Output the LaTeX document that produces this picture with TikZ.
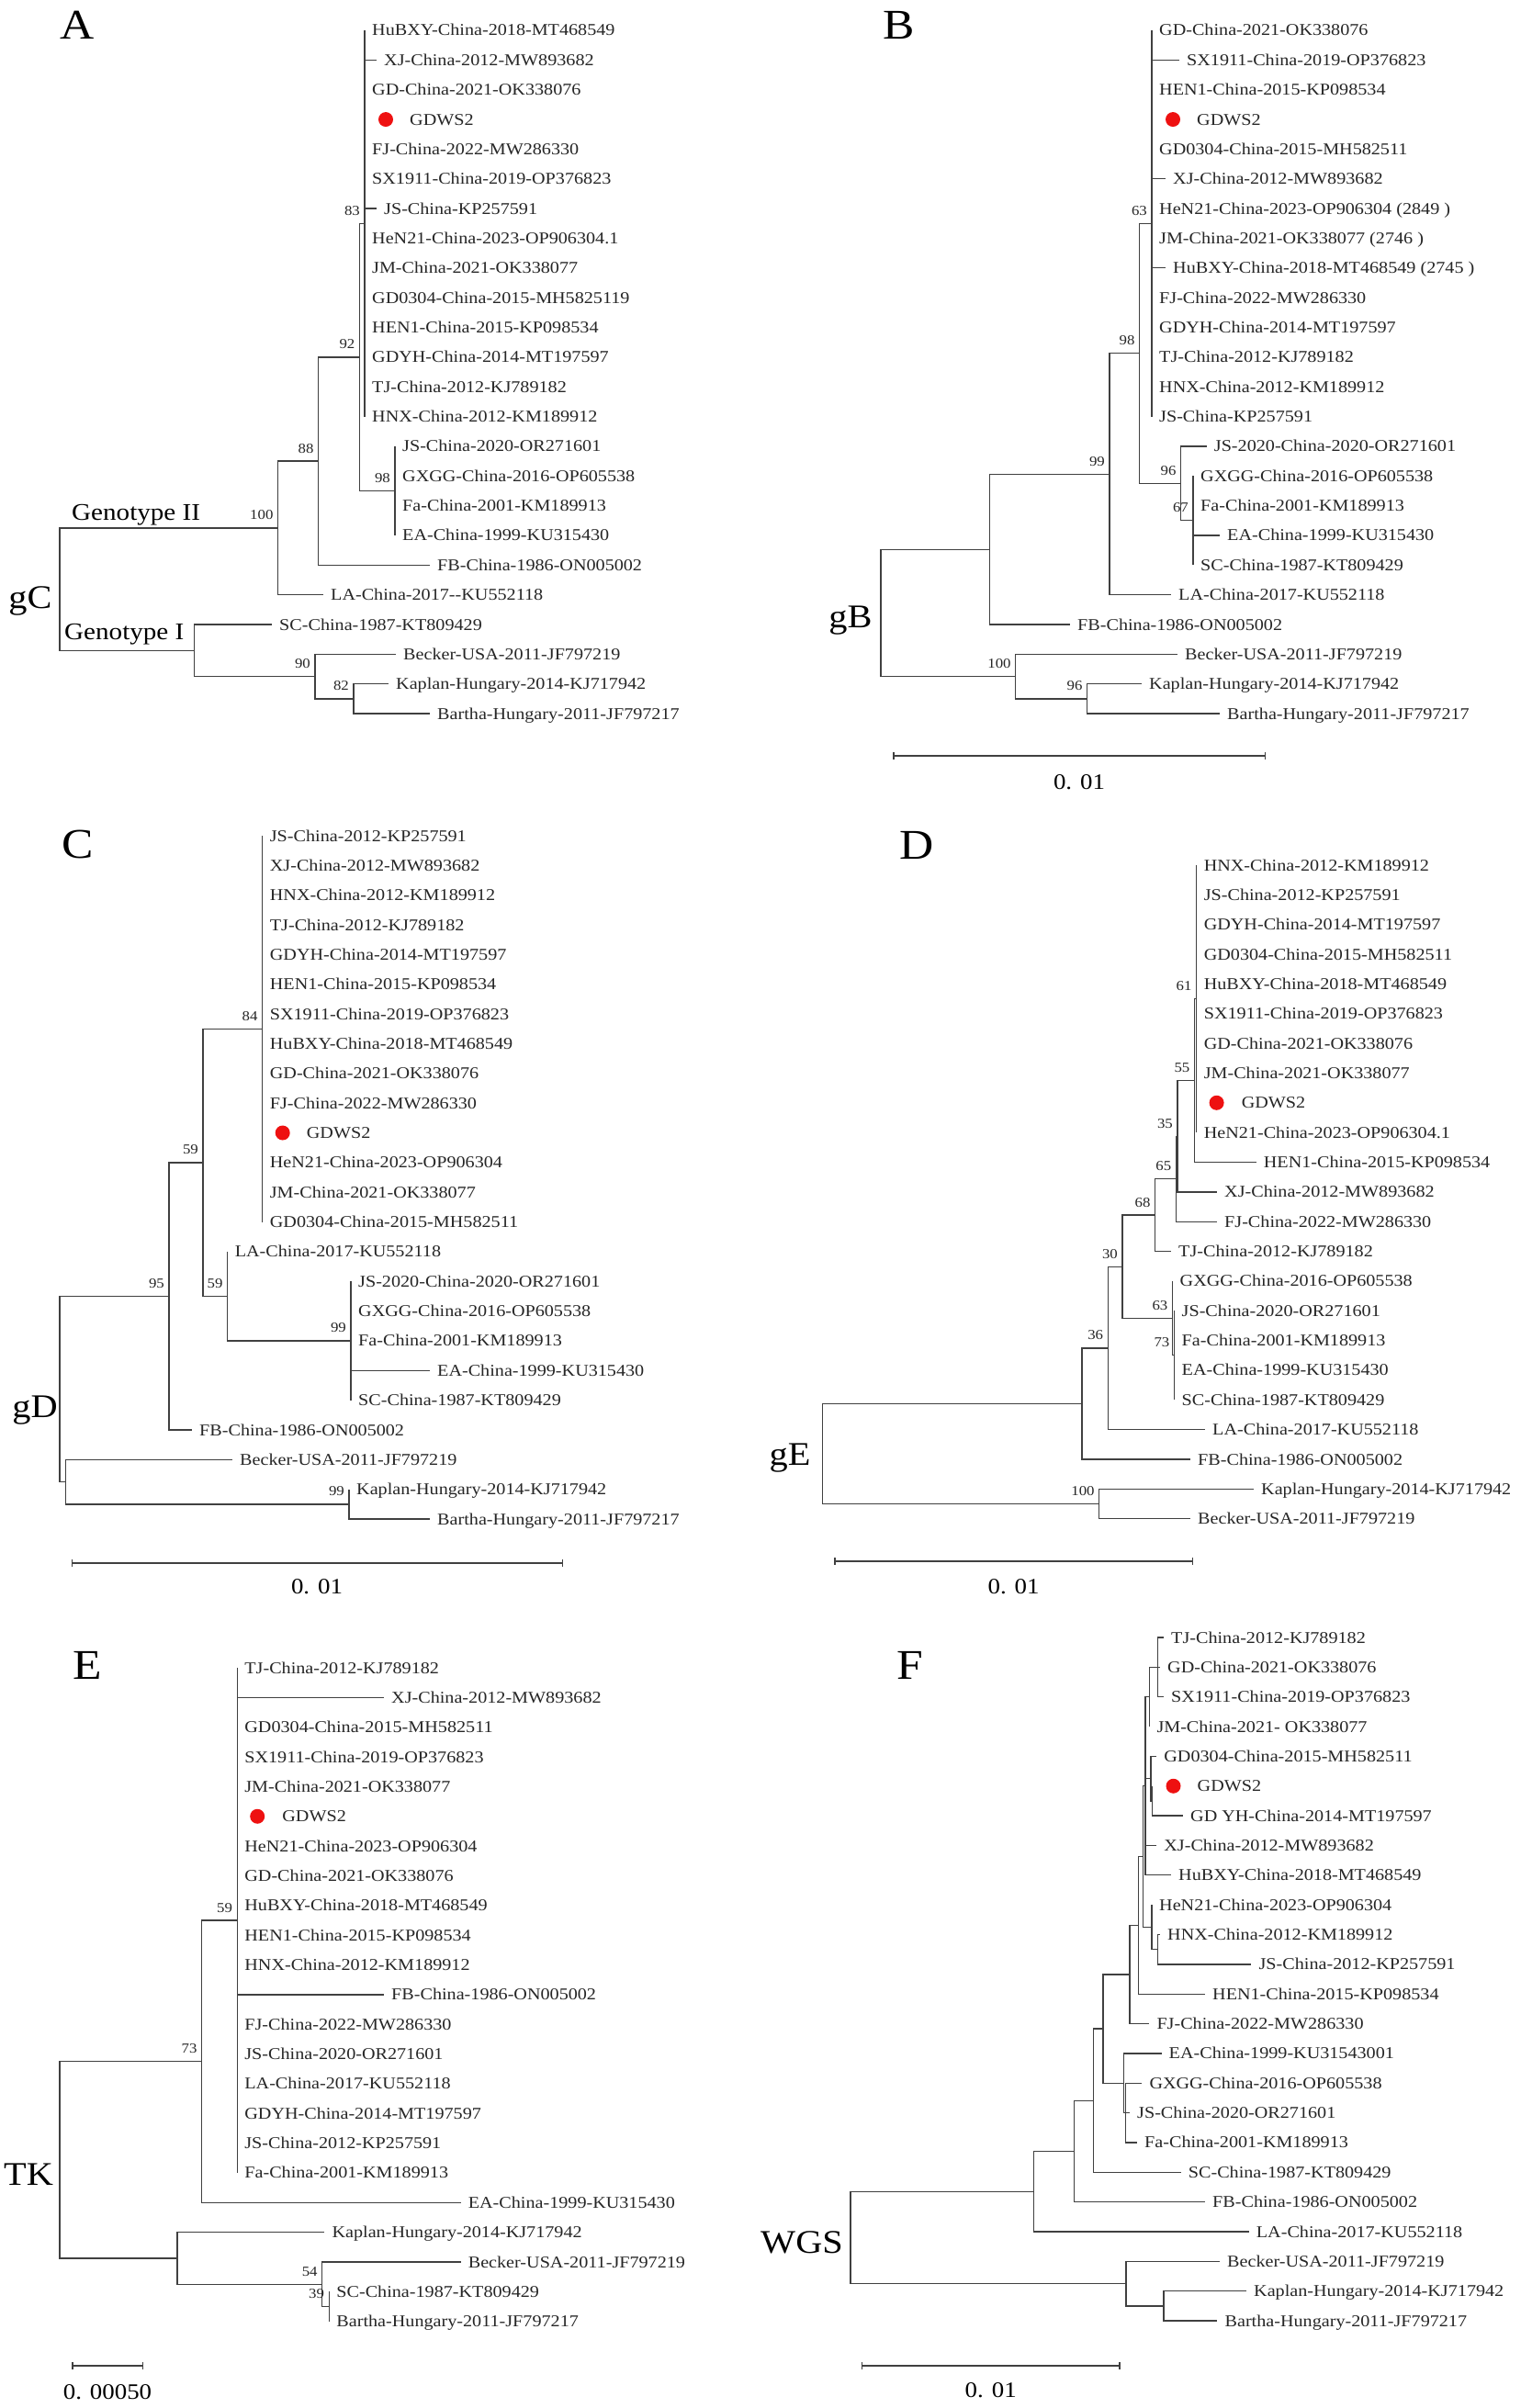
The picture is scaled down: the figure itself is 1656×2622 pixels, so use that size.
\documentclass[tikz,border=0pt]{standalone}
\usepackage{fontspec}
\setmainfont[FakeStretch=1.12]{Liberation Serif}
\usetikzlibrary{arrows.meta}
\definecolor{treegray}{HTML}{404040}
\definecolor{dotred}{HTML}{EE1111}
\tikzset{
  branch/.style={draw=treegray, line width=1.3pt},
  leaf/.style={anchor=base west, inner sep=0pt, xshift=8pt, yshift=-6pt, font=\fontsize{18}{18}\selectfont, text=black!85},
  boot/.style={anchor=base east, inner sep=0pt, xshift=-5pt, yshift=9pt, font=\fontsize{15}{15}\selectfont, text=black!85},
  strain/.style={circle, fill=dotred, inner sep=0pt, minimum size=16pt},
  panel/.style={anchor=base, inner sep=0pt, font=\fontsize{46}{46}\selectfont},
  gene/.style={anchor=base, inner sep=0pt, font=\fontsize{36}{36}\selectfont},
  geno/.style={anchor=base west, inner sep=0pt, font=\fontsize{26}{26}\selectfont},
  scalebar/.style={draw=treegray, line width=1.3pt, arrows={Bar[width=8pt]-Bar[width=8pt]}},
  scaletext/.style={anchor=base, inner sep=0pt, font=\fontsize{24}{24}\selectfont},
}
\begin{document}
\begin{tikzpicture}[x=1pt, y=-1pt]
\useasboundingbox (0,0) rectangle (1656,2622);
\fill[white] (0,0) rectangle (1656,2622);

% panel letters and gene names
\node[panel] (lA) at (84,43) {A};
\node[panel] (lB) at (979,43) {B};
\node[panel] (lC) at (85,934) {C};
\node[panel] (lD) at (998,935) {D};
\node[panel] (lE) at (95,1828) {E};
\node[panel] (lF) at (991,1828) {F};
\node[gene] (gC) at (33,662) {gC};
\node[gene] (gB) at (926,683) {gB};
\node[gene] (gD) at (38,1543) {gD};
\node[gene] (gE) at (860,1595) {gE};
\node[gene] (gTK) at (31,2379) {TK};
\node[gene] (gWGS) at (873,2453) {WGS};
\node[geno] (g2) at (78,566) {Genotype II};
\node[geno] (g1) at (70,696) {Genotype I};

% A: gC
\begin{scope}[shift={(0,33)}, y=-32.35pt]
\coordinate (aR) at (65,18.8125);
\coordinate (aN100) at (302.6,16.75);
\coordinate (aN88) at (346.6,14.5);
\coordinate (aN92) at (391.5,11);
\coordinate (aN83) at (397,6.5);
\coordinate (aN98) at (430,15.5);
\coordinate (aGI) at (211.6,20.875);
\coordinate (aN90) at (343,21.75);
\coordinate (aN82) at (385,22.5);
\foreach \p/\c in {aR/aN100, aR/aGI, aN100/aN88, aN88/aN92, aN92/aN83, aN92/aN98, aGI/aN90, aN90/aN82}
  \draw[branch] (\p) |- (\c);
\foreach \p/\i/\x/\s in {aN83/0/397/HuBXY-China-2018-MT468549, aN83/1/410/XJ-China-2012-MW893682,
  aN83/2/397/GD-China-2021-OK338076, aN83/4/397/FJ-China-2022-MW286330,
  aN83/5/397/SX1911-China-2019-OP376823, aN83/6/410/JS-China-KP257591,
  aN83/7/397/HeN21-China-2023-OP906304.1, aN83/8/397/JM-China-2021-OK338077,
  aN83/9/397/GD0304-China-2015-MH5825119, aN83/10/397/HEN1-China-2015-KP098534,
  aN83/11/397/GDYH-China-2014-MT197597, aN83/12/397/TJ-China-2012-KJ789182,
  aN83/13/397/HNX-China-2012-KM189912, aN98/14/430/JS-China-2020-OR271601,
  aN98/15/430/GXGG-China-2016-OP605538, aN98/16/430/Fa-China-2001-KM189913,
  aN98/17/430/EA-China-1999-KU315430, aN88/18/468/FB-China-1986-ON005002,
  aN100/19/352/LA-China-2017-{}-KU552118, aGI/20/296/SC-China-1987-KT809429,
  aN90/21/431/Becker-USA-2011-JF797219, aN82/22/423/Kaplan-Hungary-2014-KJ717942,
  aN82/23/468/Bartha-Hungary-2011-JF797217}{
  \coordinate (a\i) at (\x,\i);
  \draw[branch] (\p) |- (a\i);
  \node[leaf] (a\i-l) at (a\i) {\s};
}
\coordinate (a3) at (397,3);
\draw[branch] (aN83) |- (a3);
\node[strain] (a3-d) at ([xshift=23pt]a3) {};
\node[leaf, xshift=41pt] (a3-l) at (a3) {GDWS2};
\foreach \n/\v in {aN83/83, aN92/92, aN98/98, aN88/88, aN100/100, aN90/90, aN82/82}
  \node[boot] (\n-b) at (\n) {\v};
\end{scope}

% B: gB
\begin{scope}[shift={(0,33)}, y=-32.35pt]
\coordinate (bR) at (959,19.61);
\coordinate (bNF) at (1077.7,17.47);
\coordinate (bN99) at (1208,14.9375);
\coordinate (bN98) at (1240.7,10.875);
\coordinate (bN63) at (1254,6.5);
\coordinate (bN96) at (1285.7,15.25);
\coordinate (bN67) at (1299,16.5);
\coordinate (bN100) at (1105.8,21.75);
\coordinate (bN96k) at (1183.6,22.5);
\foreach \p/\c in {bR/bNF, bR/bN100, bNF/bN99, bN99/bN98, bN98/bN63, bN98/bN96, bN96/bN67, bN100/bN96k}
  \draw[branch] (\p) |- (\c);
\foreach \p/\i/\x/\s in {bN63/0/1254/GD-China-2021-OK338076, bN63/1/1284/SX1911-China-2019-OP376823,
  bN63/2/1254/HEN1-China-2015-KP098534, bN63/4/1254/GD0304-China-2015-MH582511,
  bN63/5/1269/XJ-China-2012-MW893682, bN63/6/1254/HeN21-China-2023-OP906304 (2849 ),
  bN63/7/1254/JM-China-2021-OK338077 (2746 ), bN63/8/1269/HuBXY-China-2018-MT468549 (2745 ),
  bN63/9/1254/FJ-China-2022-MW286330, bN63/10/1254/GDYH-China-2014-MT197597,
  bN63/11/1254/TJ-China-2012-KJ789182, bN63/12/1254/HNX-China-2012-KM189912,
  bN63/13/1254/JS-China-KP257591, bN96/14/1313.7/JS-2020-China-2020-OR271601,
  bN67/15/1299/GXGG-China-2016-OP605538, bN67/16/1299/Fa-China-2001-KM189913,
  bN67/17/1328/EA-China-1999-KU315430, bN67/18/1299/SC-China-1987-KT809429,
  bN99/19/1275/LA-China-2017-KU552118, bNF/20/1165/FB-China-1986-ON005002,
  bN100/21/1282/Becker-USA-2011-JF797219, bN96k/22/1243/Kaplan-Hungary-2014-KJ717942,
  bN96k/23/1328/Bartha-Hungary-2011-JF797217}{
  \coordinate (b\i) at (\x,\i);
  \draw[branch] (\p) |- (b\i);
  \node[leaf] (b\i-l) at (b\i) {\s};
}
\coordinate (b3) at (1254,3);
\draw[branch] (bN63) |- (b3);
\node[strain] (b3-d) at ([xshift=23pt]b3) {};
\node[leaf, xshift=41pt] (b3-l) at (b3) {GDWS2};
\foreach \n/\v in {bN63/63, bN98/98, bN96/96, bN67/67, bN99/99, bN100/100, bN96k/96}
  \node[boot] (\n-b) at (\n) {\v};
\end{scope}

% C: gD
\begin{scope}[shift={(0,910)}, y=-32.35pt]
\coordinate (cR) at (65,18.625);
\coordinate (cN95) at (184,15.5);
\coordinate (cN59a) at (221,11);
\coordinate (cN84) at (285.7,6.5);
\coordinate (cN59b) at (247.6,15.5);
\coordinate (cN99a) at (382,17);
\coordinate (cNB) at (71.4,21.75);
\coordinate (cN99b) at (380,22.5);
\foreach \p/\c in {cR/cN95, cR/cNB, cN95/cN59a, cN59a/cN84, cN59a/cN59b, cN59b/cN99a, cNB/cN99b}
  \draw[branch] (\p) |- (\c);
\foreach \p/\i/\x/\s in {cN84/0/285.7/JS-China-2012-KP257591, cN84/1/285.7/XJ-China-2012-MW893682,
  cN84/2/285.7/HNX-China-2012-KM189912, cN84/3/285.7/TJ-China-2012-KJ789182,
  cN84/4/285.7/GDYH-China-2014-MT197597, cN84/5/285.7/HEN1-China-2015-KP098534,
  cN84/6/285.7/SX1911-China-2019-OP376823, cN84/7/285.7/HuBXY-China-2018-MT468549,
  cN84/8/285.7/GD-China-2021-OK338076, cN84/9/285.7/FJ-China-2022-MW286330,
  cN84/11/285.7/HeN21-China-2023-OP906304, cN84/12/285.7/JM-China-2021-OK338077,
  cN84/13/285.7/GD0304-China-2015-MH582511, cN59b/14/247.6/LA-China-2017-KU552118,
  cN99a/15/382/JS-2020-China-2020-OR271601, cN99a/16/382/GXGG-China-2016-OP605538,
  cN99a/17/382/Fa-China-2001-KM189913, cN99a/18/468/EA-China-1999-KU315430,
  cN99a/19/382/SC-China-1987-KT809429, cN95/20/209/FB-China-1986-ON005002,
  cNB/21/253/Becker-USA-2011-JF797219, cN99b/22/380/Kaplan-Hungary-2014-KJ717942,
  cN99b/23/468/Bartha-Hungary-2011-JF797217}{
  \coordinate (c\i) at (\x,\i);
  \draw[branch] (\p) |- (c\i);
  \node[leaf] (c\i-l) at (c\i) {\s};
}
\coordinate (c10) at (285.7,10);
\draw[branch] (cN84) |- (c10);
\node[strain] (c10-d) at ([xshift=22pt]c10) {};
\node[leaf, xshift=40pt] (c10-l) at (c10) {GDWS2};
\foreach \n/\v in {cN84/84, cN59a/59, cN59b/59, cN99a/99, cN95/95, cN99b/99}
  \node[boot] (\n-b) at (\n) {\v};
\end{scope}

% D: gE
\begin{scope}[shift={(0,942)}, y=-32.35pt]
\coordinate (dR) at (895.7,19.8145);
\coordinate (dNF) at (1178,18.1289);
\coordinate (dN36) at (1206.3,16.2578);
\coordinate (dN30) at (1222,13.5156);
\coordinate (dN68) at (1257.6,11.7813);
\coordinate (dN65) at (1280.4,10.5625);
\coordinate (dN35) at (1282,9.125);
\coordinate (dN55) at (1300.5,7.25);
\coordinate (dN61) at (1302.6,4.5);
\coordinate (dN63) at (1276.5,15.25);
\coordinate (dN73) at (1278.5,16.5);
\coordinate (dN100) at (1196.8,21.5);
\foreach \p/\c in {dR/dNF, dR/dN100, dNF/dN36, dN36/dN30, dN30/dN68, dN30/dN63, dN68/dN65,
  dN65/dN35, dN35/dN55, dN55/dN61, dN63/dN73}
  \draw[branch] (\p) |- (\c);
\foreach \p/\i/\x/\s in {dN61/0/1302.6/HNX-China-2012-KM189912, dN61/1/1302.6/JS-China-2012-KP257591,
  dN61/2/1302.6/GDYH-China-2014-MT197597, dN61/3/1302.6/GD0304-China-2015-MH582511,
  dN61/4/1302.6/HuBXY-China-2018-MT468549, dN61/5/1302.6/SX1911-China-2019-OP376823,
  dN61/6/1302.6/GD-China-2021-OK338076, dN61/7/1302.6/JM-China-2021-OK338077,
  dN61/9/1302.6/HeN21-China-2023-OP906304.1, dN55/10/1367.7/HEN1-China-2015-KP098534,
  dN35/11/1325/XJ-China-2012-MW893682, dN65/12/1325/FJ-China-2022-MW286330,
  dN68/13/1275/TJ-China-2012-KJ789182, dN63/14/1276.5/GXGG-China-2016-OP605538,
  dN73/15/1278.5/JS-China-2020-OR271601, dN73/16/1278.5/Fa-China-2001-KM189913,
  dN73/17/1278.5/EA-China-1999-KU315430, dN73/18/1278.5/SC-China-1987-KT809429,
  dN36/19/1312/LA-China-2017-KU552118, dNF/20/1296/FB-China-1986-ON005002,
  dN100/21/1365/Kaplan-Hungary-2014-KJ717942, dN100/22/1296/Becker-USA-2011-JF797219}{
  \coordinate (d\i) at (\x,\i);
  \draw[branch] (\p) |- (d\i);
  \node[leaf] (d\i-l) at (d\i) {\s};
}
\coordinate (d8) at (1302.6,8);
\draw[branch] (dN61) |- (d8);
\node[strain] (d8-d) at ([xshift=22pt]d8) {};
\node[leaf, xshift=41pt] (d8-l) at (d8) {GDWS2};
\foreach \n/\v in {dN61/61, dN55/55, dN35/35, dN65/65, dN68/68, dN30/30, dN63/63, dN73/73, dN36/36, dN100/100}
  \node[boot] (\n-b) at (\n) {\v};
\end{scope}

% E: TK
\begin{scope}[shift={(0,1816)}, y=-32.35pt]
\coordinate (eR) at (65,16.5625);
\coordinate (eN73) at (219.6,13.25);
\coordinate (eN59) at (258.2,8.5);
\coordinate (eNK) at (193.1,19.875);
\coordinate (eN54) at (350.8,20.75);
\coordinate (eN39) at (358.2,21.5);
\foreach \p/\c in {eR/eN73, eR/eNK, eN73/eN59, eNK/eN54, eN54/eN39}
  \draw[branch] (\p) |- (\c);
\foreach \p/\i/\x/\s in {eN59/0/258.2/TJ-China-2012-KJ789182, eN59/1/418/XJ-China-2012-MW893682,
  eN59/2/258.2/GD0304-China-2015-MH582511, eN59/3/258.2/SX1911-China-2019-OP376823,
  eN59/4/258.2/JM-China-2021-OK338077, eN59/6/258.2/HeN21-China-2023-OP906304,
  eN59/7/258.2/GD-China-2021-OK338076, eN59/8/258.2/HuBXY-China-2018-MT468549,
  eN59/9/258.2/HEN1-China-2015-KP098534, eN59/10/258.2/HNX-China-2012-KM189912,
  eN59/11/418/FB-China-1986-ON005002, eN59/12/258.2/FJ-China-2022-MW286330,
  eN59/13/258.2/JS-China-2020-OR271601, eN59/14/258.2/LA-China-2017-KU552118,
  eN59/15/258.2/GDYH-China-2014-MT197597, eN59/16/258.2/JS-China-2012-KP257591,
  eN59/17/258.2/Fa-China-2001-KM189913, eN73/18/501.6/EA-China-1999-KU315430,
  eNK/19/353.4/Kaplan-Hungary-2014-KJ717942, eN54/20/501.6/Becker-USA-2011-JF797219,
  eN39/21/358.2/SC-China-1987-KT809429, eN39/22/358.2/Bartha-Hungary-2011-JF797217}{
  \coordinate (e\i) at (\x,\i);
  \draw[branch] (\p) |- (e\i);
  \node[leaf] (e\i-l) at (e\i) {\s};
}
\coordinate (e5) at (258.2,5);
\draw[branch] (eN59) |- (e5);
\node[strain] (e5-d) at ([xshift=22pt]e5) {};
\node[leaf, xshift=41pt] (e5-l) at (e5) {GDWS2};
\foreach \n/\v in {eN59/59, eN73/73, eN54/54, eN39/39}
  \node[boot] (\n-b) at (\n) {\v};
\end{scope}

% F: WGS
\begin{scope}[shift={(0,1783)}, y=-32.35pt]
\coordinate (fR) at (925.9,20.198);
\coordinate (fNn) at (1125.4,18.6465);
\coordinate (fNm) at (1169.3,17.293);
\coordinate (fNl) at (1190.4,15.5859);
\coordinate (fNk) at (1201,13.1719);
\coordinate (fNj) at (1230,11.3438);
\coordinate (fNi) at (1239.6,9.6875);
\coordinate (fNh) at (1244.5,7.375);
\coordinate (fNb) at (1247,5);
\coordinate (fNa) at (1251.3,2);
\coordinate (fNt) at (1260.8,1);
\coordinate (fNc) at (1252.9,4.75);
\coordinate (fNd) at (1254.5,5.5);
\coordinate (fNf) at (1254,9.75);
\coordinate (fNg) at (1260.8,10.5);
\coordinate (fNea) at (1223.8,15);
\coordinate (fNx) at (1225.4,16);
\coordinate (fNo) at (1225.9,21.75);
\coordinate (fNp) at (1267,22.5);
\foreach \p/\c in {fR/fNn, fR/fNo, fNn/fNm, fNm/fNl, fNl/fNk, fNk/fNj, fNk/fNea, fNj/fNi, fNi/fNh,
  fNh/fNb, fNh/fNf, fNb/fNa, fNb/fNc, fNa/fNt, fNc/fNd, fNf/fNg, fNea/fNx, fNo/fNp}
  \draw[branch] (\p) |- (\c);
\foreach \p/\i/\x/\s in {fNt/0/1267/TJ-China-2012-KJ789182, fNt/1/1263/GD-China-2021-OK338076,
  fNt/2/1267/SX1911-China-2019-OP376823, fNa/3/1251.3/JM-China-2021- OK338077,
  fNc/4/1259.2/GD0304-China-2015-MH582511, fNd/6/1288/GD YH-China-2014-MT197597,
  fNb/7/1259.2/XJ-China-2012-MW893682, fNb/8/1275/HuBXY-China-2018-MT468549,
  fNf/9/1254/HeN21-China-2023-OP906304, fNg/10/1263/HNX-China-2012-KM189912,
  fNg/11/1362.4/JS-China-2012-KP257591, fNi/12/1312/HEN1-China-2015-KP098534,
  fNj/13/1251.3/FJ-China-2022-MW286330, fNea/14/1264.5/EA-China-1999-KU31543001,
  fNx/15/1243.3/GXGG-China-2016-OP605538, fNx/16/1230/JS-China-2020-OR271601,
  fNx/17/1238/Fa-China-2001-KM189913, fNl/18/1285.7/SC-China-1987-KT809429,
  fNm/19/1312/FB-China-1986-ON005002, fNn/20/1359.7/LA-China-2017-KU552118,
  fNo/21/1328/Becker-USA-2011-JF797219, fNp/22/1357/Kaplan-Hungary-2014-KJ717942,
  fNp/23/1325.4/Bartha-Hungary-2011-JF797217}{
  \coordinate (f\i) at (\x,\i);
  \draw[branch] (\p) |- (f\i);
  \node[leaf] (f\i-l) at (f\i) {\s};
}
\coordinate (f5) at (1254.5,5);
\draw[branch] (fNd) |- (f5);
\node[strain] (f5-d) at ([xshift=23pt]f5) {};
\node[leaf, xshift=41pt] (f5-l) at (f5) {GDWS2};
\end{scope}

% scale bars
\coordinate (bS1) at (972.4,823);  \coordinate (bS2) at (1378,823);
\coordinate (cS1) at (78,1702);    \coordinate (cS2) at (613,1702);
\coordinate (dS1) at (908.4,1700); \coordinate (dS2) at (1298.9,1700);
\coordinate (eS1) at (78.3,2576);  \coordinate (eS2) at (156.1,2576);
\coordinate (fS1) at (938,2576);   \coordinate (fS2) at (1219.5,2576);
\foreach \s in {b,c,d,e,f}
  \draw[scalebar] (\s S1) -- (\s S2);
\node[scaletext] (bSt) at (1175,859) {0. 01};
\node[scaletext] (cSt) at (345,1735) {0. 01};
\node[scaletext] (dSt) at (1103.6,1735) {0. 01};
\node[scaletext] (eSt) at (117,2612) {0. 00050};
\node[scaletext] (fSt) at (1078.7,2610) {0. 01};
\end{tikzpicture}
\end{document}
